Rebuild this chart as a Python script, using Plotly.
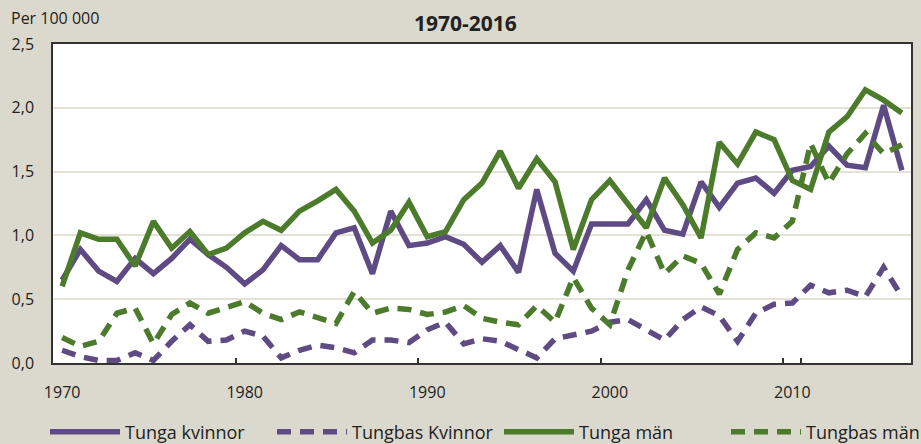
import plotly.graph_objects as go

years = [str(y) for y in range(1970, 2017)]

tunga_kvinnor = [0.65, 0.89, 0.72, 0.64, 0.82, 0.70, 0.82, 0.97, 0.85, 0.75,
                 0.62, 0.73, 0.92, 0.81, 0.81, 1.02, 1.06, 0.70, 1.19, 0.92,
                 0.94, 0.99, 0.93, 0.79, 0.92, 0.71, 1.36, 0.86, 0.72, 1.09,
                 1.09, 1.09, 1.28, 1.04, 1.01, 1.42, 1.22, 1.41, 1.45, 1.33,
                 1.51, 1.54, 1.70, 1.55, 1.53, 2.02, 1.51]
tungbas_kvinnor = [0.10, 0.05, 0.02, 0.02, 0.08, 0.02, 0.17, 0.30, 0.17, 0.18,
                   0.25, 0.21, 0.04, 0.10, 0.14, 0.12, 0.08, 0.18, 0.18, 0.16,
                   0.26, 0.32, 0.15, 0.19, 0.17, 0.10, 0.04, 0.19, 0.22, 0.25,
                   0.32, 0.34, 0.26, 0.18, 0.34, 0.44, 0.37, 0.17, 0.39, 0.46,
                   0.47, 0.61, 0.55, 0.57, 0.52, 0.75, 0.52]
tunga_man = [0.60, 1.02, 0.97, 0.97, 0.76, 1.11, 0.90, 1.03, 0.85, 0.90,
             1.02, 1.11, 1.04, 1.19, 1.27, 1.36, 1.19, 0.94, 1.04, 1.26,
             0.99, 1.03, 1.28, 1.41, 1.66, 1.37, 1.60, 1.42, 0.89, 1.28,
             1.43, 1.24, 1.06, 1.45, 1.24, 0.98, 1.73, 1.56, 1.81, 1.75,
             1.43, 1.36, 1.81, 1.93, 2.14, 2.06, 1.96]
tungbas_man = [0.20, 0.13, 0.17, 0.39, 0.43, 0.15, 0.38, 0.47, 0.39, 0.43,
               0.48, 0.39, 0.34, 0.40, 0.35, 0.31, 0.56, 0.39, 0.43, 0.42,
               0.38, 0.40, 0.45, 0.35, 0.32, 0.30, 0.45, 0.32, 0.67, 0.43,
               0.30, 0.73, 1.03, 0.70, 0.84, 0.78, 0.54, 0.89, 1.02, 0.98,
               1.11, 1.72, 1.41, 1.64, 1.80, 1.64, 1.71]

x_ticks = ["1970", "1980", "1990", "2000", "2010"]
y_ticks = [0, 0.5, 1.0, 1.5, 2.0, 2.5]

PURPLE = "#5f4b83"
GREEN = "#4b7b2b"
BG = "#dbd9cd"
FONT = "Open Sans"

series = [
    ("Tunga kvinnor", tunga_kvinnor, PURPLE, "solid"),
    ("Tungbas Kvinnor", tungbas_kvinnor, PURPLE, "14px,9px"),
    ("Tunga män", tunga_man, GREEN, "solid"),
    ("Tungbas män", tungbas_man, GREEN, "14px,9px"),
]

fig = go.Figure()
for name, vals, col, dash in series:
    fig.add_trace(go.Scatter(x=years, y=vals, name=name, mode="lines",
                             line=dict(color=col, width=5.5, dash=dash)))

PW, PH = 858, 319  # plot area size in px

fig.update_layout(
    width=921, height=444,
    paper_bgcolor=BG, plot_bgcolor="white",
    margin=dict(l=53, r=10, t=44, b=81, autoexpand=False),
    separators=", ",
    font=dict(family=FONT, size=16, color="#222222"),
    showlegend=True,
    legend=dict(orientation="h", xref="paper", yref="paper",
                x=(45 - 53) / PW, xanchor="left", y=(363 - 432) / PH, yanchor="middle",
                itemwidth=70, font=dict(size=18, family=FONT), bgcolor="rgba(0,0,0,0)",
                traceorder="normal", entrywidth=142),
    annotations=[
        dict(text="<b>1970-2016</b>", xref="paper", yref="paper",
             x=(465 - 53) / PW, y=(363 - 23) / PH, xanchor="center", yanchor="middle",
             showarrow=False, font=dict(size=21, family=FONT, color="#222222")),
        dict(text="Per 100 000", xref="paper", yref="paper",
             x=(9 - 53) / PW, y=(363 - 18) / PH, xanchor="left", yanchor="middle",
             showarrow=False, font=dict(size=16, family=FONT, color="#222222")),
    ],
)
fig.update_xaxes(type="category", range=[-0.5, 46.5], tickson="boundaries",
                 tickmode="array", tickvals=x_ticks, ticktext=x_ticks, tickangle=0,
                 ticks="inside", ticklen=5, tickcolor="#333333", tickwidth=1.5,
                 showgrid=False, showline=True, linecolor="#333333", linewidth=1.5,
                 mirror=True, ticklabelstandoff=14)
fig.update_yaxes(range=[0, 2.5], tickmode="array", tickvals=y_ticks, tickformat=".1f",
                 showgrid=True, gridcolor="#e4e1d7", gridwidth=2, zeroline=False,
                 showline=True, linecolor="#333333", linewidth=1.5, mirror=True,
                 ticks="", ticklabelstandoff=14)

fig.write_html("out.html",
               config={"displayModeBar": False},
               post_script="document.body.style.margin='0';document.body.style.overflow='hidden';")
